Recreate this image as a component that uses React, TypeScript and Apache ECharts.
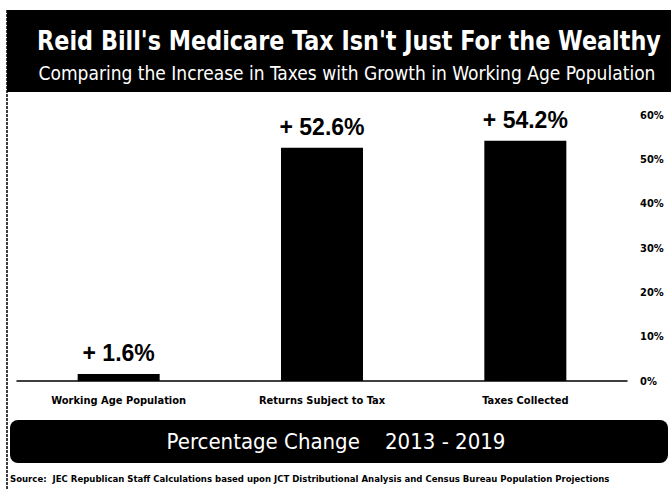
import React, { useEffect, useRef } from "react";
import * as echarts from "echarts";

const titleText = "Reid Bill's Medicare Tax Isn't Just For the Wealthy";
const subtitleText = "Comparing the Increase in Taxes with Growth in Working Age Population";
const footerText = "Percentage Change    2013 - 2019";
const sourceText =
  "Source:  JEC Republican Staff Calculations based upon JCT Distributional Analysis and Census Bureau Population Projections";

const categories = ["Working Age Population", "Returns Subject to Tax", "Taxes Collected"];
const values = [1.6, 52.6, 54.2];
const yMin = 0;
const yMax = 60;
const yInterval = 10;

const NARROW = "'DejaVu Sans Condensed', 'DejaVu Sans', sans-serif";

export default function App() {
  const ref = useRef<HTMLDivElement>(null);
  useEffect(() => {
    if (!ref.current) return;
    const chart = echarts.init(ref.current, null, { renderer: "svg" });
    chart.setOption({
      animation: false,
      backgroundColor: "#ffffff",
      grid: { left: 17, right: 44, top: 115, bottom: 109, containLabel: false },
      xAxis: {
        type: "category",
        data: categories,
        axisTick: { show: false },
        axisLine: { show: true, lineStyle: { color: "#000", width: 1.5, type: "solid" } },
        axisLabel: {
          margin: 14,
          color: "#000",
          fontFamily: NARROW,
          fontWeight: "bold",
          fontSize: 11,
          interval: 0,
        },
      },
      yAxis: {
        type: "value",
        position: "right",
        min: yMin,
        max: yMax,
        interval: yInterval,
        axisLine: { show: false },
        axisTick: { show: false },
        splitLine: { show: false },
        axisLabel: {
          margin: 13,
          formatter: "{value}%",
          color: "#000",
          fontFamily: NARROW,
          fontWeight: "bold",
          fontSize: 11,
        },
      },
      series: [
        {
          type: "bar",
          data: values,
          barWidth: 82,
          itemStyle: { color: "#000" },
          label: {
            show: true,
            position: "top",
            distance: 9,
            formatter: (p: any) => "+ " + p.value.toFixed(1) + "%",
            color: "#000",
            fontFamily: "'Liberation Sans', Arial, sans-serif",
            fontWeight: "bold",
            fontSize: 23,
          },
        },
      ],
      graphic: [
        {
          type: "rect",
          shape: { x: 7, y: 10, width: 664, height: 82 },
          style: { fill: "#000" },
          z: 0,
        },
        {
          type: "text",
          x: 349,
          y: 41,
          scaleX: 0.92,
          style: {
            text: titleText,
            fill: "#fff",
            font: "bold 27px " + NARROW,
            textAlign: "center",
            textVerticalAlign: "middle",
          },
        },
        {
          type: "text",
          x: 347,
          y: 73,
          style: {
            text: subtitleText,
            fill: "#fff",
            font: "19px " + NARROW,
            textAlign: "center",
            textVerticalAlign: "middle",
          },
        },
        {
          type: "line",
          shape: { x1: 7, y1: 10, x2: 7, y2: 490 },
          style: { stroke: "#000", lineWidth: 1.5, lineDash: [3, 1] },
        },
        {
          type: "rect",
          shape: { x: 10, y: 420, width: 658, height: 43, r: 8 },
          style: { fill: "#000" },
        },
        {
          type: "text",
          x: 336,
          y: 441,
          style: {
            text: footerText,
            fill: "#fff",
            font: "22px " + NARROW,
            textAlign: "center",
            textVerticalAlign: "middle",
          },
        },
        {
          type: "text",
          x: 10,
          y: 478,
          style: {
            text: sourceText,
            fill: "#000",
            font: "bold 9.5px " + NARROW,
            textAlign: "left",
            textVerticalAlign: "middle",
          },
        },
      ],
    });
    return () => chart.dispose();
  }, []);
  return <div ref={ref} style={{ width: 671, height: 490, position: "absolute", left: 0, top: 0 }} />;
}
